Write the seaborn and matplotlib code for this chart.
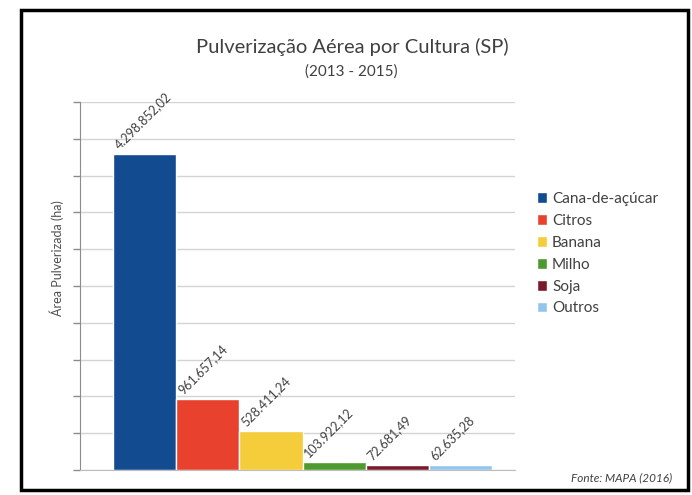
import matplotlib
matplotlib.use("Agg")
import matplotlib.pyplot as plt
from matplotlib.patches import Rectangle
import seaborn as sns
import pandas as pd

# Data (area in ha)
culturas = ["Cana-de-açúcar", "Citros", "Banana", "Milho", "Soja", "Outros"]
areas = [4298852.02, 961657.14, 528411.24, 103922.12, 72681.49, 62635.28]
rotulos = ["4.298.852,02", "961.657,14", "528.411,24", "103.922,12", "72.681,49", "62.635,28"]
cores = ["#124B8F", "#E8412E", "#F5CC3A", "#4E9A2F", "#7A1B2C", "#92C6EA"]

df = pd.DataFrame({"grupo": ["SP"] * len(culturas), "cultura": culturas, "area": areas})

sns.set_style("white")
plt.rcParams["font.family"] = ["Lato", "DejaVu Sans"]

fig = plt.figure(figsize=(6.92, 4.95), dpi=100)
ax = fig.add_axes([80 / 692, 1 - 470 / 495, 435 / 692, 368 / 495])

sns.barplot(data=df, x="grupo", y="area", hue="cultura", palette=cores,
            width=0.87, dodge=True, ax=ax, legend=True, saturation=1)

ax.set_xlim(-0.5115, 0.4885)
ax.set_ylim(0, 5000000)
ax.set_yticks(range(0, 5000001, 500000))
ax.set_yticklabels([])
ax.set_xticks([])
ax.set_xlabel("")
ax.set_ylabel("")
ax.yaxis.grid(True, color="#D4D4D4", lw=1)
ax.set_axisbelow(True)
for side in ["top", "right"]:
    ax.spines[side].set_visible(False)
ax.spines["left"].set_color("#8C8C8C")
ax.spines["bottom"].set_color("#BDBDBD")
ax.tick_params(axis="y", left=True, length=5, color="#8C8C8C", width=1)

# data labels, rotated like the original
for bar, txt in zip(ax.patches, rotulos):
    ax.text(bar.get_x() + 0.018, bar.get_height() + 40000, txt, rotation=45,
            rotation_mode="anchor", ha="left", va="bottom", fontsize=9, color="#404040")

handles, labels = ax.get_legend_handles_labels()
ax.legend(handles, labels, loc="upper left", bbox_to_anchor=(523 / 692, 1 - 178 / 495),
          bbox_transform=fig.transFigure, frameon=False, fontsize=11,
          handlelength=0.7, handleheight=0.7, handletextpad=0.3, labelspacing=0.52,
          labelcolor="#404040")

fig.text(352 / 692, 1 - 47 / 495, "Pulverização Aérea por Cultura (SP)",
         ha="center", va="center", fontsize=14.5, color="#404040")
fig.text(351 / 692, 1 - 72 / 495, "(2013 - 2015)",
         ha="center", va="center", fontsize=11, color="#404040")
fig.text(57 / 692, 1 - 258 / 495, "Área Pulverizada (ha)", rotation=90,
         ha="center", va="center", fontsize=9, color="#505050")
fig.text(672 / 692, 1 - 478 / 495, "Fonte: MAPA (2016)", ha="right", va="center",
         fontsize=8.5, style="italic", color="#404040")

# outer frame
fig.patches.append(Rectangle((21 / 692, 1 - 490 / 495), 667 / 692, 480 / 495,
                             transform=fig.transFigure, fill=False, ec="black", lw=2.5))

fig.savefig("out.png", dpi=100)
